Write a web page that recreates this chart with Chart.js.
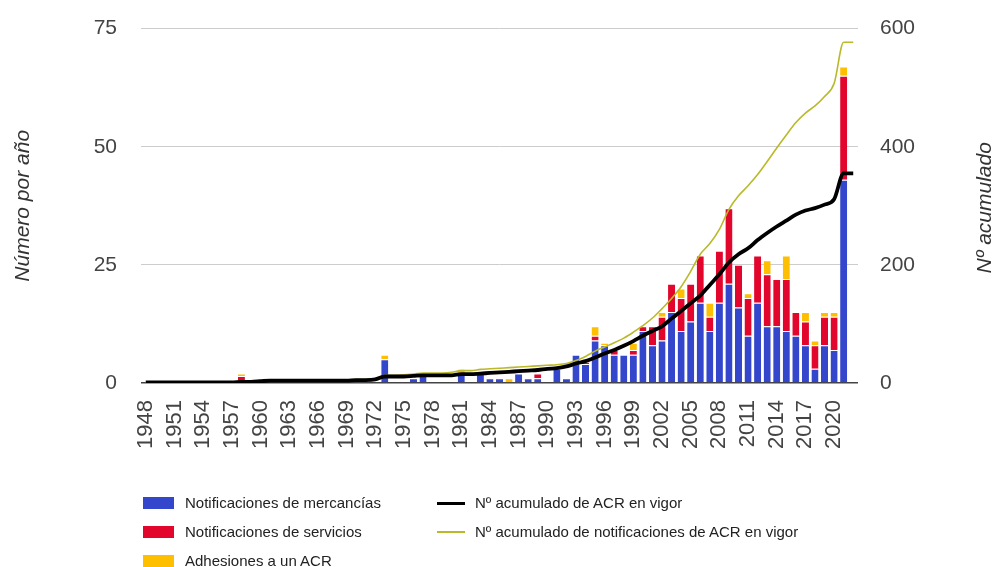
<!DOCTYPE html>
<html>
<head>
<meta charset="utf-8">
<script src="https://cdn.jsdelivr.net/npm/chart.js@4.4.1/dist/chart.umd.min.js"></script>
<style>
  html, body { margin: 0; padding: 0; background: #fff; }
  #wrap { position: relative; width: 997px; height: 567px; overflow: hidden; font-family: 'Liberation Sans', Arial, sans-serif; }
  #chart { position: absolute; left: 0; top: -8px; }
  .leg { position: absolute; font-size: 15px; color: #222; line-height: 18px; white-space: nowrap; }
  .leg .sw { position: absolute; }
</style>
</head>
<body>
<div id="wrap">
  <canvas id="chart" width="997" height="575"></canvas>
  <div id="legend"></div>
</div>
<script>
// Años (categorías) 1948-2022
const years = [
  1948, 1949, 1950, 1951, 1952, 1953, 1954, 1955, 1956, 1957,
  1958, 1959, 1960, 1961, 1962, 1963, 1964, 1965, 1966, 1967,
  1968, 1969, 1970, 1971, 1972, 1973, 1974, 1975, 1976, 1977,
  1978, 1979, 1980, 1981, 1982, 1983, 1984, 1985, 1986, 1987,
  1988, 1989, 1990, 1991, 1992, 1993, 1994, 1995, 1996, 1997,
  1998, 1999, 2000, 2001, 2002, 2003, 2004, 2005, 2006, 2007,
  2008, 2009, 2010, 2011, 2012, 2013, 2014, 2015, 2016, 2017,
  2018, 2019, 2020, 2021, 2022
];

// Notificaciones por año (eje izquierdo)
const goods = [
  0, 0, 0, 0, 0, 0, 0, 0, 0, 0,
  0.5, 0, 0, 0, 0, 0, 0, 0, 0, 0,
  0, 0, 0, 0, 0, 5, 0, 0, 1, 2,
  0, 0, 0, 2, 0, 2, 1, 1, 0, 2,
  1, 1, 0, 3, 1, 6, 4, 9, 8, 6,
  6, 6, 11, 8, 9, 15, 11, 13, 17, 11,
  17, 21, 16, 10, 17, 12, 12, 11, 10, 8,
  3, 8, 7, 43, null
];
const services = [
  0, 0, 0, 0, 0, 0, 0, 0, 0, 0,
  1, 0, 0.4, 0.4, 0, 0, 0, 0, 0, 0,
  0, 0, 0, 0, 0, 0, 0, 0, 0, 0,
  0, 0, 0, 0, 0, 0, 0, 0, 0, 0,
  0, 1, 0, 0, 0, 0, 0.5, 1, 0, 1,
  0, 1, 1, 4, 5, 6, 7, 8, 10, 3,
  11, 16, 9, 8, 10, 11, 10, 11, 5, 5,
  5, 6, 7, 22, null
];
const accessions = [
  0, 0, 0, 0, 0, 0, 0, 0, 0, 0,
  0.5, 0, 0.4, 0.4, 0, 0, 0, 0, 0, 0,
  0, 0, 0, 0, 0, 1, 0, 0, 0, 0,
  0, 0, 0, 1, 0, 0, 0, 0, 1, 0,
  0, 0, 0, 0, 0, 0, 0, 2, 0.5, 0,
  0, 1.5, 0, 0, 1, 0, 2, 0, 0, 3,
  0, 0, 0, 1, 0, 3, 0, 5, 0, 2,
  1, 1, 1, 2, null
];

// Acumulados (eje derecho)
const acrInForce = [
  1, 1, 1, 1, 1, 1, 1, 1, 1, 1,
  2, 2, 3, 4, 4, 4, 4, 4, 4, 4,
  4, 4, 5, 5, 6, 11, 11, 11, 12, 13,
  13, 13, 13, 15, 15, 16, 17, 18, 19, 20,
  21, 22, 24, 25, 28, 33, 37, 43, 50, 56,
  63, 71, 80, 88, 96, 109, 122, 135, 148, 166,
  184, 204, 218, 228, 242, 254, 265, 275, 285, 292,
  296, 302, 311, 355, 355
];
const acrNotifications = [
  1, 1, 1, 1, 1, 1, 1, 1, 1, 1,
  3, 3, 4, 5, 5, 5, 5, 5, 5, 5,
  5, 5, 6, 6, 7, 13, 13, 14, 15, 17,
  17, 17, 18, 21, 21, 23, 24, 25, 26, 27,
  28, 29, 30, 31, 33, 38, 45, 54, 61, 68,
  76, 86, 97, 110, 126, 143, 163, 189, 218, 236,
  260, 294, 317, 334, 353, 375, 398, 420, 441, 457,
  469, 485, 507, 577, 577
];

const leftTicks = [0, 25, 50, 75];
const rightTicks = [0, 200, 400, 600];

const barLabels = ['Notificaciones de mercancías', 'Notificaciones de servicios', 'Adhesiones a un ACR'];
const lineLabels = ['Nº acumulado de ACR en vigor', 'Nº acumulado de notificaciones de ACR en vigor'];
const barColors = ['#3446cc', '#e2052c', '#fdbf00'];
const lineColors = ['#000000', '#b9b92a'];

const FONT = "'Liberation Sans', Arial, sans-serif";

// título del eje derecho, leído de abajo arriba como el izquierdo
const rightTitle = {
  id: 'rightTitle',
  afterDraw(chart) {
    const { ctx, chartArea } = chart;
    ctx.save();
    ctx.translate(985, (chartArea.top + chartArea.bottom) / 2 + 2);
    ctx.rotate(-Math.PI / 2);
    ctx.font = 'italic 21px ' + FONT;
    ctx.fillStyle = '#333';
    ctx.textAlign = 'center';
    ctx.textBaseline = 'middle';
    ctx.fillText('Nº acumulado', 0, 0);
    ctx.restore();
  }
};

function barSet(i, data) {
  return {
    type: 'bar',
    label: barLabels[i],
    data: data,
    backgroundColor: barColors[i],
    borderColor: '#ffffff',
    borderWidth: { top: 1, left: 0, right: 0, bottom: 0 },
    yAxisID: 'y',
    stack: 'acr',
    order: 2,
    barPercentage: 0.74,
    categoryPercentage: 1
  };
}

function lineSet(i, data, width) {
  return {
    type: 'line',
    label: lineLabels[i],
    data: data,
    borderColor: lineColors[i],
    borderWidth: width,
    pointRadius: 0,
    cubicInterpolationMode: 'monotone',
    yAxisID: 'y1',
    order: i === 0 ? 0 : 1
  };
}

new Chart(document.getElementById('chart').getContext('2d'), {
  data: {
    labels: years,
    datasets: [
      lineSet(0, acrInForce, 3.8),
      lineSet(1, acrNotifications, 1.6),
      barSet(0, goods),
      barSet(1, services),
      barSet(2, accessions)
    ]
  },
  options: {
    responsive: false,
    animation: false,
    devicePixelRatio: 1,
    layout: { padding: { top: 20, left: 0, right: 0, bottom: 0 } },
    plugins: {
      legend: { display: false },
      tooltip: { enabled: false }
    },
    scales: {
      x: {
        stacked: true,
        grid: { display: false },
        border: { display: false },
        ticks: {
          autoSkip: false,
          maxRotation: 90,
          minRotation: 90,
          padding: 9,
          color: '#444',
          font: { family: FONT, size: 22 },
          callback: (v, i) => (i % 3 === 0 ? String(years[i]) : '')
        },
        afterFit: s => { s.height = 184; }
      },
      y: {
        stacked: true,
        position: 'left',
        min: leftTicks[0],
        max: leftTicks[leftTicks.length - 1],
        afterBuildTicks: s => { s.ticks = leftTicks.map(v => ({ value: v })); },
        grid: {
          drawTicks: false,
          color: c => (c.tick && c.tick.value === 0 ? '#444' : '#cccccc'),
          lineWidth: c => (c.tick && c.tick.value === 0 ? 1.5 : 1)
        },
        border: { display: false },
        ticks: { padding: 24, color: '#444', font: { family: FONT, size: 21 } },
        title: {
          display: true,
          text: 'Número por año',
          color: '#333',
          font: { family: FONT, size: 21, style: 'italic' },
          padding: { top: 11, bottom: 0 }
        },
        afterFit: s => { s.width = 141; }
      },
      y1: {
        position: 'right',
        min: rightTicks[0],
        max: rightTicks[rightTicks.length - 1],
        afterBuildTicks: s => { s.ticks = rightTicks.map(v => ({ value: v })); },
        grid: { display: false, drawTicks: false },
        border: { display: false },
        ticks: { padding: 22, color: '#444', font: { family: FONT, size: 21 } },
        afterFit: s => { s.width = 139; }
      }
    }
  },
  plugins: [rightTitle]
});

// Leyenda en dos columnas
const legend = document.getElementById('legend');
const rowsY = [503, 532, 561];
barLabels.forEach((lab, i) => {
  const d = document.createElement('div');
  d.className = 'leg';
  d.style.left = '143px';
  d.style.top = (rowsY[i] - 9) + 'px';
  d.style.paddingLeft = '42px';
  d.innerHTML = '<span class="sw" style="left:0;top:3px;width:31px;height:12px;background:' + barColors[i] + '"></span>' + lab;
  legend.appendChild(d);
});
lineLabels.forEach((lab, i) => {
  const d = document.createElement('div');
  d.className = 'leg';
  d.style.left = '437px';
  d.style.top = (rowsY[i] - 9) + 'px';
  d.style.paddingLeft = '38px';
  d.innerHTML = '<span class="sw" style="left:0;top:8px;width:28px;height:' + (i === 0 ? 3 : 2) + 'px;background:' + lineColors[i] + '"></span>' + lab;
  legend.appendChild(d);
});
</script>
</body>
</html>
